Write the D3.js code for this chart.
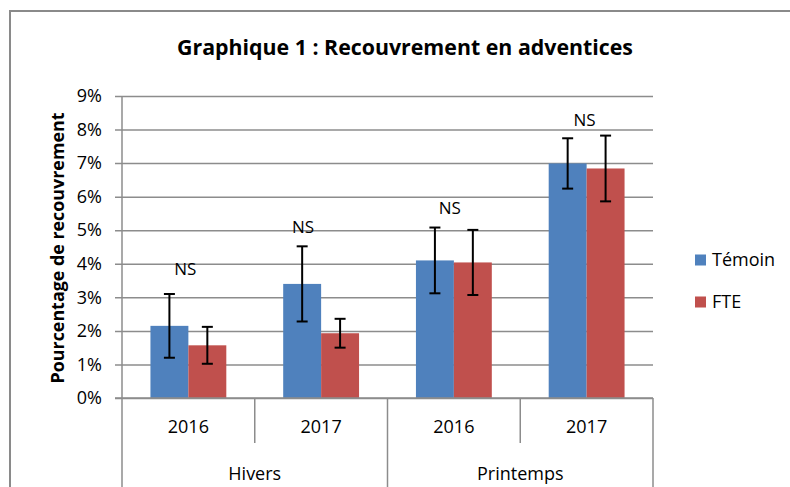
<!DOCTYPE html>
<html>
<head>
<meta charset="utf-8">
<script src="https://cdn.jsdelivr.net/npm/d3@7"></script>
<style>
  body { margin: 0; background: #fff; }
  svg text { font-family: "Open Sans", sans-serif; fill: #000; }
</style>
</head>
<body>
<svg id="chart" width="790" height="487"></svg>
<script>
// data (values in %)
const years = ['2016', '2017', '2016', '2017'];
const seasons = ['Hivers', 'Printemps'];
const seriesNames = ['Témoin', 'FTE'];
const temoin = [2.15, 3.40, 4.10, 6.99];
const fte = [1.57, 1.93, 4.04, 6.84];
const temoinErr = [0.95, 1.12, 0.98, 0.75];
const fteErr = [0.55, 0.43, 0.97, 0.98];
const nsLabels = ['NS', 'NS', 'NS', 'NS'];
const nsLevel = [3.84, 5.10, 5.67, 8.27];
const yTicks = [0, 1, 2, 3, 4, 5, 6, 7, 8, 9];

const colors = { 'Témoin': '#4F81BD', 'FTE': '#C0504D' };
const nsDx = [-3, -18, -4, -2]; // label nudges as placed in the original

const svg = d3.select('#chart');
const plotLeft = 122, plotRight = 653, plotTop = 96, plotBottom = 398;
const gridColor = '#8c8c8c';

// outer frame
svg.append('rect')
    .attr('x', 10).attr('y', 11)
    .attr('width', 800).attr('height', 500)
    .attr('fill', 'none')
    .attr('stroke', '#8a8a8a')
    .attr('stroke-width', 2);

const x = d3.scaleBand()
    .domain(d3.range(years.length))
    .range([plotLeft, plotRight])
    .padding(0);

const y = d3.scaleLinear()
    .domain([0, 9])
    .range([plotBottom, plotTop]);

// bar width: gap width 150% like the original spreadsheet
const barW = x.bandwidth() / (seriesNames.length + 1.5);
const xs = d3.scaleBand()
    .domain(seriesNames)
    .range([0, barW * seriesNames.length]);

// gridlines (extend a little left of the axis as tick marks)
svg.append('g')
    .attr('transform', `translate(${plotRight},0)`)
    .call(d3.axisLeft(y).tickValues(yTicks).tickSize(plotRight - 115).tickFormat('').tickSizeOuter(0))
    .call(g => g.select('.domain').remove())
    .call(g => g.selectAll('.tick line').attr('stroke', gridColor).attr('stroke-width', 1.5));

// y tick labels
svg.append('g')
    .attr('transform', `translate(${plotLeft},0)`)
    .call(d3.axisLeft(y).tickValues(yTicks).tickSize(0).tickPadding(20).tickFormat(d => d + '%'))
    .call(g => g.select('.domain').remove())
    .call(g => g.selectAll('text')
        .style('font-size', '18px')
        .attr('fill', '#000'));

// bars
const rows = years.map((yr, i) => ({
    i,
    values: [
        { name: 'Témoin', v: temoin[i], e: temoinErr[i] },
        { name: 'FTE', v: fte[i], e: fteErr[i] }
    ]
}));

const groups = svg.selectAll('.grp')
    .data(rows)
    .enter()
    .append('g')
    .attr('class', 'grp')
    .attr('transform', d => `translate(${x(d.i) + x.bandwidth() / 2 - barW},0)`);

groups.selectAll('rect')
    .data(d => d.values)
    .enter()
    .append('rect')
    .attr('x', d => xs(d.name))
    .attr('y', d => y(d.v))
    .attr('width', xs.bandwidth())
    .attr('height', d => y(0) - y(d.v))
    .attr('fill', d => colors[d.name]);

// error bars
const err = groups.selectAll('.err')
    .data(d => d.values)
    .enter()
    .append('g')
    .attr('class', 'err')
    .attr('stroke', '#000')
    .attr('stroke-width', 2);

err.append('line')
    .attr('x1', d => xs(d.name) + xs.bandwidth() / 2)
    .attr('x2', d => xs(d.name) + xs.bandwidth() / 2)
    .attr('y1', d => y(d.v + d.e))
    .attr('y2', d => y(d.v - d.e));

[1, -1].forEach(s => {
    err.append('line')
        .attr('x1', d => xs(d.name) + xs.bandwidth() / 2 - 5.5)
        .attr('x2', d => xs(d.name) + xs.bandwidth() / 2 + 5.5)
        .attr('y1', d => y(d.v + s * d.e))
        .attr('y2', d => y(d.v + s * d.e));
});

// NS labels
svg.selectAll('.ns')
    .data(nsLabels)
    .enter()
    .append('text')
    .attr('class', 'ns')
    .attr('x', (d, i) => x(i) + x.bandwidth() / 2 + nsDx[i])
    .attr('y', (d, i) => y(nsLevel[i]))
    .attr('dy', '0.35em')
    .attr('text-anchor', 'middle')
    .style('font-size', '17px')
    .text(d => d);

// vertical axis line
svg.append('line')
    .attr('x1', plotLeft).attr('x2', plotLeft)
    .attr('y1', plotTop).attr('y2', plotBottom)
    .attr('stroke', gridColor).attr('stroke-width', 1.5);

// category axis: baseline, dividers and two-level labels
svg.append('line')
    .attr('x1', 115).attr('x2', plotRight)
    .attr('y1', plotBottom).attr('y2', plotBottom)
    .attr('stroke', gridColor).attr('stroke-width', 1.5);

d3.range(years.length + 1).forEach(i => {
    const xx = plotLeft + i * x.step();
    svg.append('line')
        .attr('x1', xx).attr('x2', xx)
        .attr('y1', plotBottom)
        .attr('y2', i % 2 === 0 ? 490 : 443)
        .attr('stroke', gridColor).attr('stroke-width', 1.5);
});

svg.selectAll('.yr')
    .data(years)
    .enter()
    .append('text')
    .attr('class', 'yr')
    .attr('x', (d, i) => x(i) + x.bandwidth() / 2)
    .attr('y', 427)
    .attr('dy', '0.35em')
    .attr('text-anchor', 'middle')
    .style('font-size', '18px')
    .text(d => d);

svg.selectAll('.season')
    .data(seasons)
    .enter()
    .append('text')
    .attr('class', 'season')
    .attr('x', (d, i) => x(i * 2) + x.bandwidth())
    .attr('y', 474)
    .attr('dy', '0.35em')
    .attr('text-anchor', 'middle')
    .style('font-size', '18px')
    .text(d => d);

// legend
const legend = svg.selectAll('.leg')
    .data(seriesNames)
    .enter()
    .append('g')
    .attr('class', 'leg')
    .attr('transform', (d, i) => `translate(695,${260 + i * 42})`);

legend.append('rect')
    .attr('x', 0).attr('y', -5.5)
    .attr('width', 11).attr('height', 11)
    .attr('fill', d => colors[d]);

legend.append('text')
    .attr('x', 17)
    .attr('dy', '0.35em')
    .style('font-size', '18px')
    .text(d => d);

// shrink/grow a text to a target width
function fitText(sel, target, start) {
    sel.style('font-size', start + 'px');
    const w = sel.node().getComputedTextLength();
    sel.style('font-size', (start * target / w).toFixed(2) + 'px');
}

// title
const title = svg.append('text')
    .attr('x', 405)
    .attr('y', 48)
    .attr('dy', '0.35em')
    .attr('text-anchor', 'middle')
    .style('font-weight', 'bold')
    .text('Graphique 1 : Recouvrement en adventices');
fitText(title, 456, 20);

// y axis title
const yTitle = svg.append('text')
    .attr('transform', 'translate(58,248) rotate(-90)')
    .attr('dy', '0.35em')
    .attr('text-anchor', 'middle')
    .style('font-weight', 'bold')
    .text('Pourcentage de recouvrement');
fitText(yTitle, 271, 17);
</script>
</body>
</html>
